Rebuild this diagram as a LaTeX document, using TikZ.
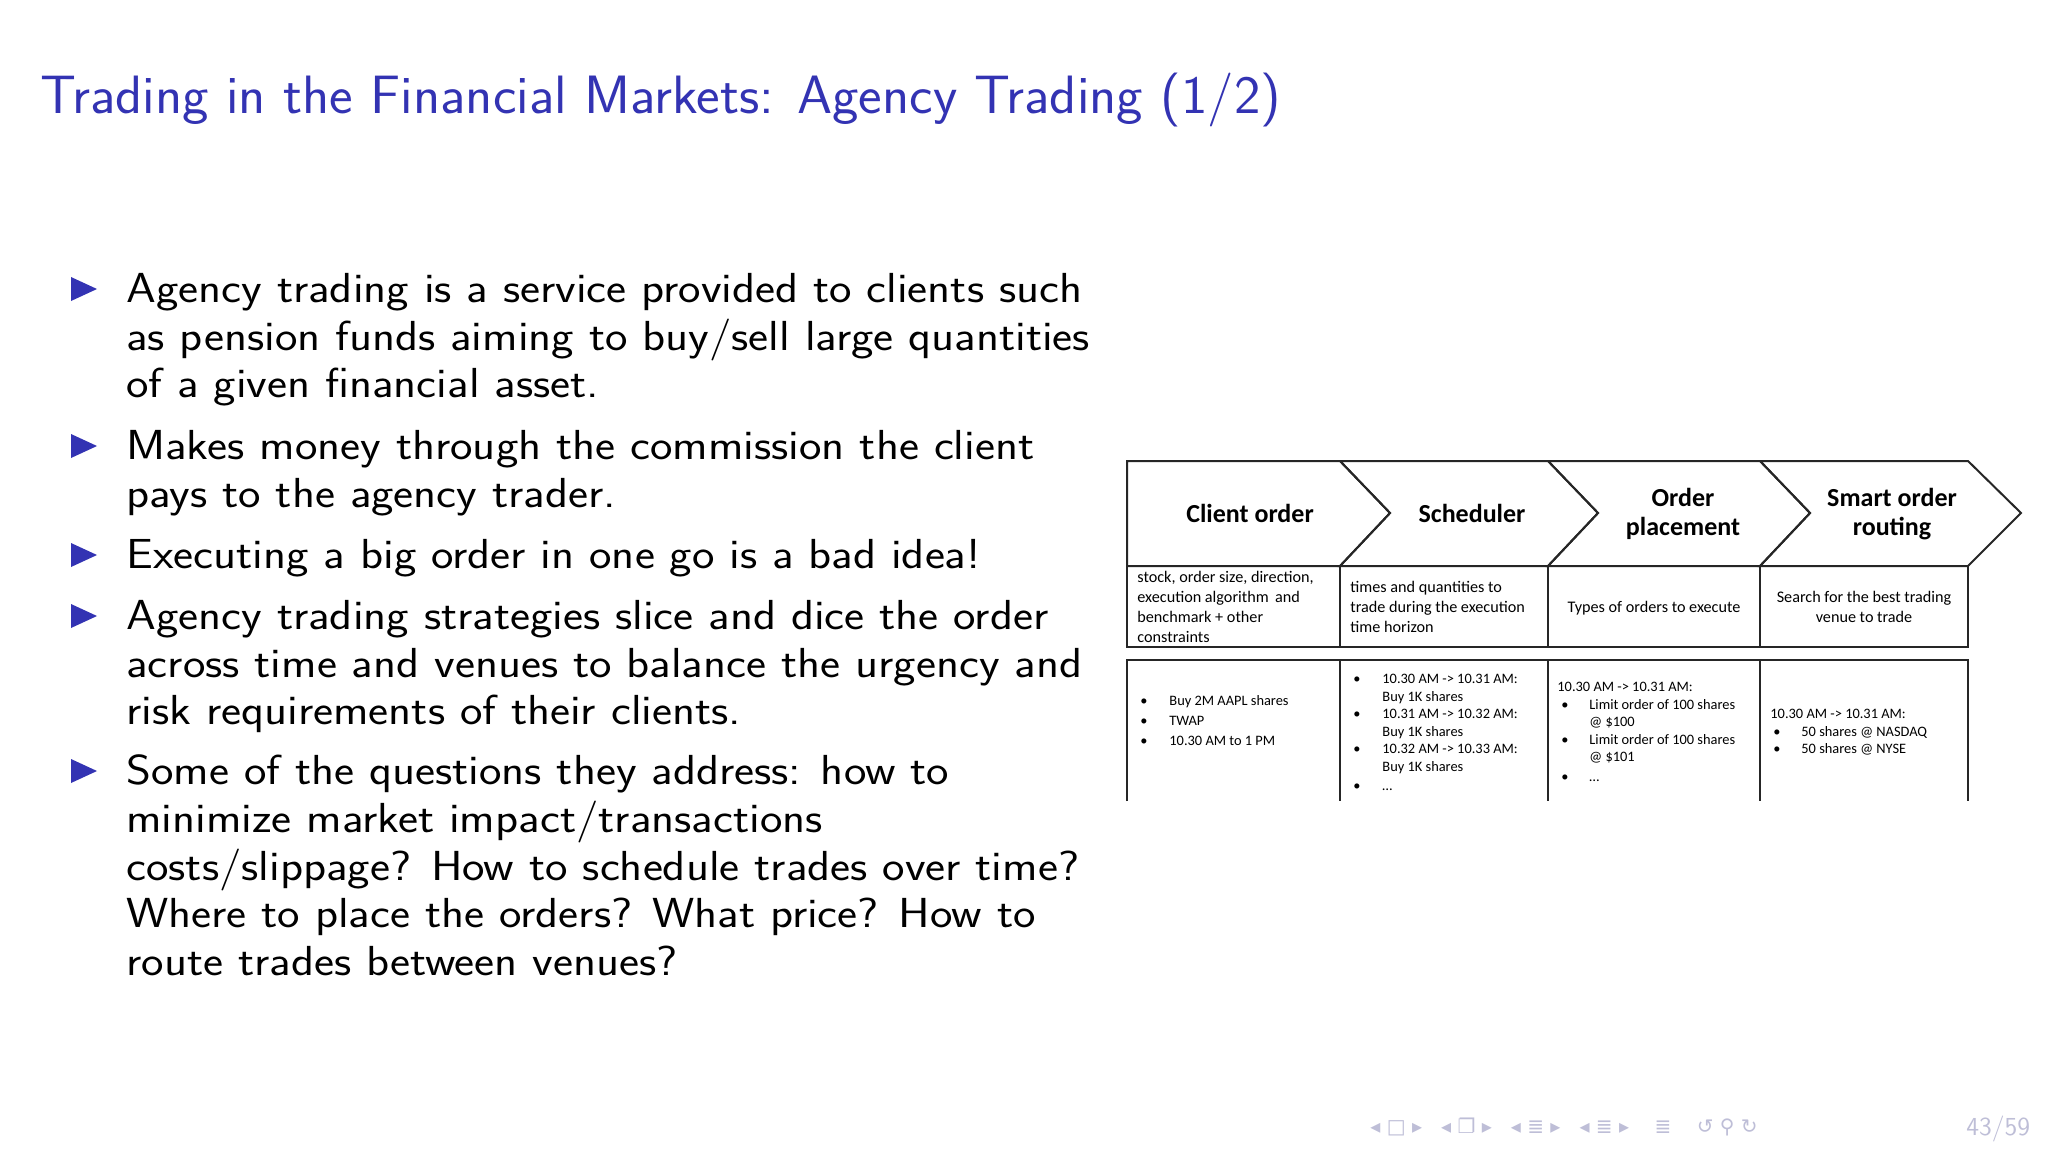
\documentclass[tikz,border=0pt]{standalone}
\usepackage{fontspec}
\newfontfamily\carlitofont{Carlito}
\newfontfamily\djfont{DejaVu Sans}
\newfontfamily\bodyfont{Latin Modern Sans}[FakeStretch=1.135]
\newfontfamily\titlefont{Latin Modern Sans}[FakeStretch=1.04]
\definecolor{bblue}{RGB}{51,51,179}
\definecolor{navgray}{RGB}{190,190,215}
\begin{document}
\begin{tikzpicture}[x=0.5pt,y=-0.5pt,
  body/.style={anchor=base west,inner sep=0,font=\bodyfont\fontsize{21}{24}\selectfont},
  hd/.style={align=center,inner sep=0,font=\carlitofont\bfseries\fontsize{13}{14.5}\selectfont},
  sm/.style={anchor=base west,inner sep=0,font=\carlitofont\fontsize{8.1}{10}\selectfont},
  tn/.style={anchor=base west,inner sep=0,font=\carlitofont\fontsize{7.2}{8.8}\selectfont},
  box/.style={draw=black!85,line width=1pt}]
\useasboundingbox (0,0) rectangle (2048,1152);
\fill[white] (0,0) rectangle (2048,1152);
\node[anchor=base west,inner sep=0,text=bblue,font=\titlefont\fontsize{27}{30}\selectfont] (title) at (40,113) {Trading in the Financial Markets: Agency Trading (1/2)};
% bullets
\foreach \y in {289,446,555,616,771}{\fill[bblue] (71,\y-12) -- (97,\y) -- (71,\y+12) -- cycle;}
\node[body] (l1) at (126,302) {Agency trading is a service provided to clients such};
\node[body] (l2) at (126,350) {as pension funds aiming to buy/sell large quantities};
\node[body] (l3) at (126,397) {of a given financial asset.};
\node[body] (l4) at (126,459) {Makes money through the commission the client};
\node[body] (l5) at (126,507) {pays to the agency trader.};
\node[body] (l6) at (126,568) {Executing a big order in one go is a bad idea!};
\node[body] (l7) at (126,629) {Agency trading strategies slice and dice the order};
\node[body] (l8) at (126,677) {across time and venues to balance the urgency and};
\node[body] (l9) at (126,724) {risk requirements of their clients.};
\node[body] (l10) at (126,784) {Some of the questions they address: how to};
\node[body] (l11) at (126,832) {minimize market impact/transactions};
\node[body] (l12) at (126,880) {costs/slippage? How to schedule trades over time?};
\node[body] (l13) at (126,927) {Where to place the orders? What price? How to};
\node[body] (l14) at (126,975) {route trades between venues?};
% chevrons
\draw[box] (1127,461) -- (1340,461) -- (1390,513) -- (1340,566) -- (1127,566) -- cycle;
\draw[box] (1340,461) -- (1548,461) -- (1598,513) -- (1548,566) -- (1340,566) -- (1390,513) -- cycle;
\draw[box] (1548,461) -- (1760,461) -- (1810,513) -- (1760,566) -- (1548,566) -- (1598,513) -- cycle;
\draw[box] (1760,461) -- (1968,461) -- (2021,513) -- (1968,566) -- (1760,566) -- (1810,513) -- cycle;
\node[hd] (h1) at (1250,513) {Client order};
\node[hd] (h2) at (1472,513) {Scheduler};
\node[hd] (h3) at (1683,514) {Order\\placement};
\node[hd] (h4) at (1892,514) {Smart order\\routing};
% row 2
\draw[box] (1127,566) rectangle (1968,647);
\foreach \x in {1340,1548,1760}{\draw[box] (\x,566) -- (\x,647);}
\node[sm] (a1) at (1137,582) {stock, order size, direction,};
\node[sm] (a2) at (1137,602) {execution algorithm\, and};
\node[sm] (a3) at (1137,622) {benchmark + other};
\node[sm] (a4) at (1137,642) {constraints};
\node[sm] (b1) at (1350,592) {times and quantities to};
\node[sm] (b2) at (1350,612) {trade during the execution};
\node[sm] (b3) at (1350,632) {time horizon};
\node[sm,anchor=base] (c1) at (1654,612) {Types of orders to execute};
\node[sm,anchor=base] (d1) at (1864,602) {Search for the best trading};
\node[sm,anchor=base] (d2) at (1864,622) {venue to trade};
% row 3
\draw[box] (1127,801) -- (1127,660) -- (1968,660) -- (1968,801);
\foreach \x in {1340,1548,1760}{\draw[box] (\x,660) -- (\x,801);}
\foreach \y/\t [count=\i] in {705/Buy 2M AAPL shares,725/TWAP,745/10.30 AM to 1 PM}{
  \node[tn] (e\i) at (1169,\y) {\t}; \node[tn] (eb\i) at (1140,\y) {•};}
\foreach \y/\t [count=\i] in {683/10.30 AM -> 10.31 AM:,701/Buy 1K shares,718/10.31 AM -> 10.32 AM:,736/Buy 1K shares,753/10.32 AM -> 10.33 AM:,771/Buy 1K shares,790/\ldots}{
  \node[tn] (f\i) at (1382,\y) {\t};}
\foreach \y [count=\i] in {683,718,753,790}{\node[tn] (fb\i) at (1353,\y) {•};}
\node[tn] (g0) at (1557,691) {10.30 AM -> 10.31 AM:};
\foreach \y/\t [count=\i] in {709/Limit order of 100 shares,726/@ \$100,744/Limit order of 100 shares,761/@ \$101,781/\ldots}{
  \node[tn] (g\i) at (1589,\y) {\t};}
\foreach \y [count=\i] in {709,744,781}{\node[tn] (gb\i) at (1561,\y) {•};}
\node[tn] (k0) at (1770,718) {10.30 AM -> 10.31 AM:};
\node[tn] (k1) at (1801,736) {50 shares @ NASDAQ};
\node[tn] (k2) at (1801,753) {50 shares @ NYSE};
\node[tn] (kb1) at (1773,736) {•};
\node[tn] (kb2) at (1773,753) {•};
% navigation
\node[anchor=base west,inner sep=0,text=navgray,font=\djfont\fontsize{10}{12}\selectfont] (nav) at (1370,1133) {◂ □ ▸ \ \ ◂ ❐ ▸ \ \ ◂ ≣ ▸ \ \ ◂ ≣ ▸ \ \ \ ≣ \ \ \ ↺ ⚲ ↻};
\node[anchor=base west,inner sep=0,text=navgray,font=\sffamily\fontsize{13}{14}\selectfont] (pg) at (1966,1135) {43/59};
\end{tikzpicture}
\end{document}
